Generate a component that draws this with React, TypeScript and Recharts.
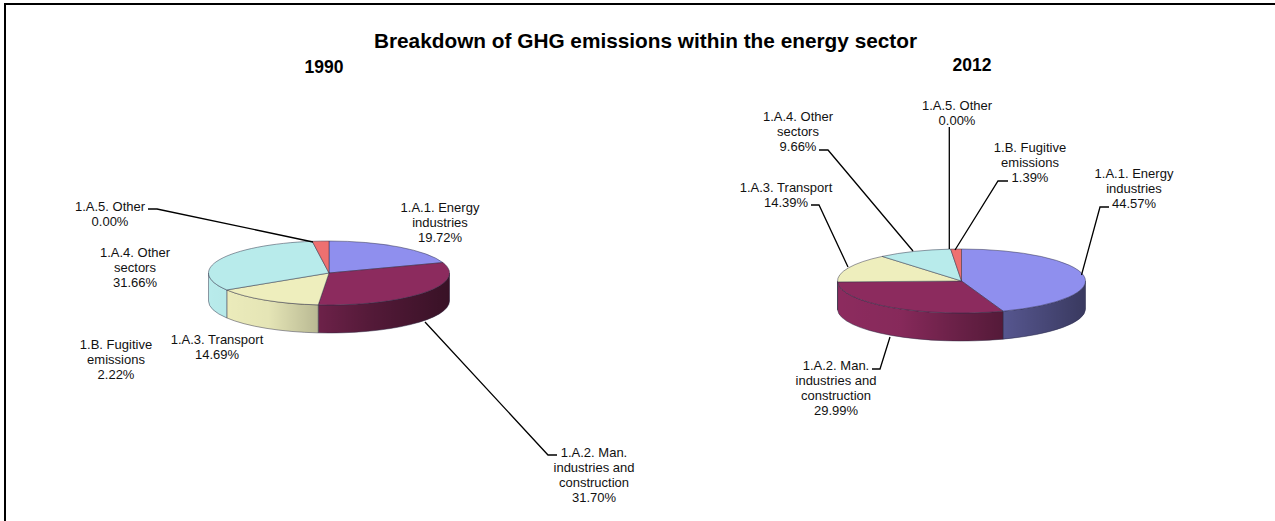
import { PieChart, Pie } from "recharts";

const categories = [
  "1.A.1. Energy industries",
  "1.A.2. Man. industries and construction",
  "1.A.3. Transport",
  "1.A.4. Other sectors",
  "1.B. Fugitive emissions",
  "1.A.5. Other",
];
const categoryLines = [
  ["1.A.1. Energy", "industries"],
  ["1.A.2. Man.", "industries and", "construction"],
  ["1.A.3. Transport"],
  ["1.A.4. Other", "sectors"],
  ["1.B. Fugitive", "emissions"],
  ["1.A.5. Other"],
];
const values1990 = [19.72, 31.7, 14.69, 31.66, 2.22, 0];
const values2012 = [44.57, 29.99, 14.39, 9.66, 1.39, 0];

const sliceColors = ["#8f8fee", "#8c2b5e", "#eeeebd", "#b8ebeb", "#ee7070", "#ee7070"];

// darkening of the pie wall, left to right: [offset, black opacity]
const wallShade = [
  [0, 0],
  [0.25, 0.04],
  [0.45, 0.22],
  [0.67, 0.4],
  [1, 0.6],
];

const toRows = (vals: number[]) => categories.map((name, i) => ({ name, value: vals[i] }));

const DEPTH = 28;
const EDGE = "#2c2c44";

// label placement: text centre, first line centre y, leader polyline
type Callout = { x: number; y: number; line?: number[][] };
const callouts1990: Callout[] = [
  { x: 440, y: 207 },
  { x: 594, y: 452, line: [[557, 455], [548, 455], [425, 322]] },
  { x: 217, y: 339 },
  { x: 135, y: 252 },
  { x: 116, y: 344 },
  { x: 110, y: 206, line: [[148, 209], [157, 209], [313, 242]] },
];
const callouts2012: Callout[] = [
  { x: 1134, y: 173, line: [[1109, 207], [1100, 207], [1081.5, 275]] },
  { x: 836, y: 365, line: [[872, 369], [880, 369], [890, 337]] },
  { x: 786, y: 187, line: [[811, 205], [819, 205], [848, 267]] },
  { x: 798, y: 116, line: [[819, 150], [828, 150], [913, 251]] },
  { x: 1030, y: 147, line: [[1008, 181], [998, 181], [955, 250]] },
  { x: 957, y: 105, line: [[949.3, 127], [949.3, 249]] },
];

const rad = (a: number) => (a * Math.PI) / 180;

function pt(cx: number, cy: number, rx: number, ry: number, a: number) {
  return [cx + rx * Math.cos(rad(a)), cy - ry * Math.sin(rad(a))];
}

function TopSlice({ id, ry }: { id: string; ry: number }) {
  return (props: any) => {
    const { cx, cy, outerRadius: rx, startAngle, endAngle, index } = props;
    if (startAngle - endAngle <= 0) return <g />;
    const [x0, y0] = pt(cx, cy, rx, ry, startAngle);
    const [x1, y1] = pt(cx, cy, rx, ry, endAngle);
    const large = startAngle - endAngle > 180 ? 1 : 0;
    return (
      <path
        key={id}
        d={`M${cx},${cy}L${x0},${y0}A${rx},${ry} 0 ${large} 1 ${x1},${y1}Z`}
        fill={sliceColors[index]}
        stroke={EDGE}
        strokeOpacity={0.6}
        strokeWidth={0.8}
      />
    );
  };
}

function WallSlice({ id, ry }: { id: string; ry: number }) {
  return (props: any) => {
    const { cx, cy, outerRadius: rx, startAngle, endAngle, index } = props;
    const s = Math.min(startAngle, 0);
    const e = Math.max(endAngle, -180);
    if (s <= e) return <g />;
    const [x0, y0] = pt(cx, cy, rx, ry, s);
    const [x1, y1] = pt(cx, cy, rx, ry, e);
    const d = `M${x0},${y0}A${rx},${ry} 0 0 1 ${x1},${y1}L${x1},${y1 + DEPTH}A${rx},${ry} 0 0 0 ${x0},${y0 + DEPTH}Z`;
    const gid = `wall-${id}-${index}`;
    return (
      <g>
        <defs>
          <linearGradient id={gid} gradientUnits="userSpaceOnUse" x1={cx - rx} x2={cx + rx} y1={0} y2={0}>
            {wallShade.map(([o, k]) => (
              <stop key={o} offset={o} stopColor="#000" stopOpacity={k} />
            ))}
          </linearGradient>
        </defs>
        <path d={d} fill={sliceColors[index]} />
        <path d={d} fill={`url(#${gid})`} stroke={EDGE} strokeOpacity={0.6} strokeWidth={0.8} />
      </g>
    );
  };
}

function calloutLabel(spots: Callout[]) {
  return (props: any) => {
    const { index, value } = props;
    const spot = spots[index];
    const lines = [...categoryLines[index], `${value.toFixed(2)}%`];
    return (
      <g key={index}>
        {spot.line && (
          <polyline
            points={spot.line.map((p) => p.join(",")).join(" ")}
            fill="none"
            stroke="#000"
            strokeWidth={1.3}
          />
        )}
        {lines.map((t, i) => (
          <text
            key={i}
            x={spot.x}
            y={spot.y + i * 15 + 4.5}
            textAnchor="middle"
            fontFamily="Liberation Sans"
            fontSize={13}
            fill="#111"
          >
            {t}
          </text>
        ))}
      </g>
    );
  };
}

function heading(text: string, x: number, y: number, size: number) {
  return (
    <text x={x} y={y} textAnchor="middle" fontFamily="Liberation Sans" fontWeight="bold" fontSize={size} fill="#000">
      {text}
    </text>
  );
}

const pieBase = {
  dataKey: "value",
  nameKey: "name",
  startAngle: 90,
  endAngle: -270,
  innerRadius: 0,
  stroke: "none",
  isAnimationActive: false,
};

export default function App() {
  const rows1990 = toRows(values1990);
  const rows2012 = toRows(values2012);
  return (
    <div style={{ position: "absolute", left: 0, top: 0, width: 1275, height: 521, background: "#fff" }}>
      <PieChart width={1275} height={521} margin={{ top: 0, right: 0, bottom: 0, left: 0 }}>
        <Pie
          {...pieBase}
          data={rows1990}
          cx={329}
          cy={273}
          outerRadius={120.5}
          shape={WallSlice({ id: "a", ry: 32 })}
          label={false}
          labelLine={false}
        />
        <Pie
          {...pieBase}
          data={rows2012}
          cx={961.5}
          cy={281}
          outerRadius={124}
          shape={WallSlice({ id: "b", ry: 32 })}
          label={false}
          labelLine={false}
        />
        <Pie
          {...pieBase}
          data={rows1990}
          cx={329}
          cy={273}
          outerRadius={120.5}
          shape={TopSlice({ id: "a", ry: 32 })}
          label={calloutLabel(callouts1990)}
          labelLine={false}
        />
        <Pie
          {...pieBase}
          data={rows2012}
          cx={961.5}
          cy={281}
          outerRadius={124}
          shape={TopSlice({ id: "b", ry: 32 })}
          label={calloutLabel(callouts2012)}
          labelLine={false}
        />
        {heading("Breakdown of GHG emissions within the energy sector", 645.5, 48, 20.8)}
        {heading("1990", 324, 73, 17.5)}
        {heading("2012", 972, 71, 17.5)}
        <line x1={4} y1={4} x2={1275} y2={4} stroke="#000" strokeWidth={2} />
        <line x1={5} y1={3} x2={5} y2={521} stroke="#000" strokeWidth={2} />
      </PieChart>
    </div>
  );
}
